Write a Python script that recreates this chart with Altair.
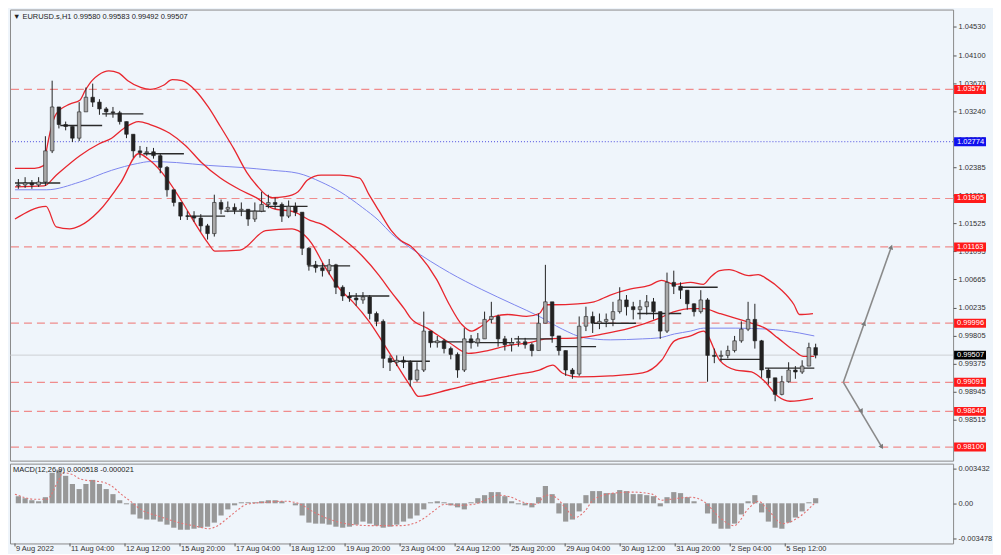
import altair as alt
import pandas as pd

FONT = "Liberation Sans"
HEADER = "\u25bc EURUSD.s,H1  0.99580 0.99583 0.99492 0.99507"
MACD_HEADER = "MACD(12,26,9) 0.000518 -0.000021"

# ---------------- price data (4-hour groups, time index = group number) ----------------
FIRST_OPEN = 1.02100
CLOSE = [1.02112, 1.02142, 1.02112, 1.02157, 1.02634, 1.03306, 1.03037, 1.03007, 1.02828, 1.03231,
         1.03455, 1.03380, 1.03276, 1.03231, 1.03216, 1.03082, 1.02888, 1.02634, 1.02605, 1.02620,
         1.02560, 1.02381, 1.02038, 1.01844, 1.01635, 1.01635, 1.01605, 1.01486, 1.01367, 1.01844,
         1.01740, 1.01769, 1.01725, 1.01740, 1.01590, 1.01710, 1.01814, 1.01844, 1.01814, 1.01635,
         1.01784, 1.01695, 1.01143, 1.00889, 1.00845, 1.00800, 1.00889, 1.00546, 1.00412, 1.00382,
         1.00352, 1.00397, 1.00144, 1.00024, 0.99458, 0.99398, 0.99428, 0.99398, 0.99130, 0.99279,
         0.99875, 0.99697, 0.99726, 0.99607, 0.99518, 0.99279, 0.99756, 0.99697, 0.99756, 1.00054,
         1.00099, 0.99756, 0.99667, 0.99697, 0.99711, 0.99667, 0.99577, 0.99995, 1.00323, 0.99801,
         0.99577, 0.99279, 0.99219, 0.99950, 1.00099, 0.99995, 1.00024, 1.00054, 1.00173, 1.00352,
         1.00248, 1.00203, 1.00248, 1.00323, 1.00173, 0.99875, 1.00621, 1.00561, 1.00501, 1.00293,
         1.00173, 1.00352, 0.99503, 0.99488, 0.99503, 0.99577, 0.99726, 0.99905, 1.00054, 0.99726,
         0.99279, 0.99160, 0.98906, 0.99100, 0.99279, 0.99249, 0.99339, 0.99622, 0.99507]
HIGH = [1.02202, 1.02231, 1.02187, 1.02231, 1.02858, 1.03708, 1.03306, 1.03082, 1.03007, 1.03380,
        1.03604, 1.03663, 1.03425, 1.03306, 1.03306, 1.03246, 1.03082, 1.02888, 1.02709, 1.02694,
        1.02679, 1.02590, 1.02400, 1.02038, 1.01844, 1.01710, 1.01710, 1.01665, 1.01516, 1.01963,
        1.01889, 1.01859, 1.01829, 1.01844, 1.01740, 1.01844, 1.02008, 1.01963, 1.01918, 1.01844,
        1.01874, 1.01844, 1.01695, 1.01160, 1.00949, 1.00919, 1.00979, 1.00905, 1.00576, 1.00472,
        1.00457, 1.00472, 1.00427, 1.00173, 1.00054, 0.99503, 0.99503, 0.99488, 0.99428, 0.99398,
        1.00173, 0.99875, 0.99801, 0.99756, 0.99637, 0.99548, 0.99920, 0.99816, 0.99846, 1.00173,
        1.00323, 1.00128, 0.99801, 0.99771, 0.99801, 0.99771, 0.99697, 1.00144, 1.00889, 1.00323,
        0.99801, 0.99577, 0.99309, 1.00099, 1.00248, 1.00173, 1.00144, 1.00144, 1.00323, 1.00546,
        1.00427, 1.00323, 1.00352, 1.00427, 1.00382, 1.00173, 1.00770, 1.00800, 1.00621, 1.00501,
        1.00300, 1.00501, 1.00380, 0.99607, 0.99577, 0.99652, 0.99801, 1.00024, 1.00323, 1.00293,
        0.99740, 0.99309, 0.99160, 0.99190, 0.99398, 0.99339, 0.99428, 0.99697, 0.99682]
LOW = [1.02053, 1.02068, 1.02053, 1.02082, 1.02097, 1.02600, 1.02977, 1.02948, 1.02769, 1.02784,
       1.03231, 1.03306, 1.03186, 1.03156, 1.03141, 1.03037, 1.02828, 1.02530, 1.02530, 1.02560,
       1.02515, 1.02291, 1.01933, 1.01784, 1.01576, 1.01576, 1.01546, 1.01397, 1.01277, 1.01322,
       1.01665, 1.01695, 1.01665, 1.01635, 1.01486, 1.01546, 1.01695, 1.01754, 1.01740, 1.01546,
       1.01605, 1.01635, 1.01039, 1.00800, 1.00770, 1.00710, 1.00740, 1.00442, 1.00337, 1.00323,
       1.00263, 1.00293, 1.00054, 0.99950, 0.99309, 0.99264, 0.99339, 0.99309, 0.99026, 0.99100,
       0.99249, 0.99622, 0.99622, 0.99533, 0.99443, 0.99160, 0.99249, 0.99607, 0.99637, 0.99756,
       0.99995, 0.99637, 0.99577, 0.99562, 0.99637, 0.99607, 0.99488, 0.99577, 0.99995, 0.99697,
       0.99503, 0.99190, 0.99145, 0.99190, 0.99875, 0.99846, 0.99905, 0.99935, 0.99950, 1.00144,
       1.00114, 1.00054, 1.00054, 1.00129, 1.00054, 0.99756, 0.99846, 1.00442, 1.00367, 1.00203,
       1.00099, 1.00144, 0.99100, 0.99384, 0.99413, 0.99458, 0.99548, 0.99697, 0.99875, 0.99607,
       0.99160, 0.99055, 0.98801, 0.98891, 0.99085, 0.99145, 0.99219, 0.99339, 0.99458]

# ---------------- indicator lines (time index, price) ----------------
UPPER_T = [0, 2.9, 4.3, 4.7, 5.3, 6.1, 8.1, 9.6, 10.4, 11.4, 12.4, 13.9, 15.3, 16.7, 18.6, 20.0, 21.9,
           23.3, 24.7, 26.7, 28.6, 30.4, 32.4, 34.3, 36.1, 37.1, 38.1, 40.0, 41.9, 43.3, 45.3, 48.1,
           51.0, 52.4, 53.9, 55.7, 57.1, 58.6, 59.6, 62.4, 64.3, 66.1, 67.6, 69.0, 71.0, 72.9, 75.7,
           77.6, 78.6, 79.6, 83.3, 85.7, 88.1, 91.0, 93.9, 95.7, 97.6, 100.0, 101.9, 102.9, 104.3,
           105.7, 108.6, 110.0, 111.4, 113.3, 115.3, 116.1, 118.1]
UPPER_P = [1.02366, 1.02366, 1.02411, 1.02664, 1.02963, 1.03201, 1.03350, 1.03410, 1.03559, 1.03708,
           1.03798, 1.03857, 1.03828, 1.03708, 1.03604, 1.03574, 1.03634, 1.03723, 1.03708, 1.03559,
           1.03306, 1.03007, 1.02664, 1.02306, 1.02068, 1.01963, 1.01918, 1.01933, 1.02008, 1.02187,
           1.02261, 1.02261, 1.02217, 1.01963, 1.01710, 1.01412, 1.01262, 1.01173, 1.01068, 1.00666,
           1.00278, 0.99980, 0.99875, 0.99950, 1.00099, 1.00129, 1.00099, 1.00144, 1.00278, 1.00278,
           1.00293, 1.00323, 1.00427, 1.00516, 1.00576, 1.00651, 1.00591, 1.00621, 1.00591, 1.00696,
           1.00800, 1.00815, 1.00725, 1.00740, 1.00666, 1.00516, 1.00278, 1.00129, 1.00144]
MID_T = [0, 4.3, 6.1, 9.6, 12.4, 14.3, 16.1, 18.3, 20.0, 22.9, 25.3, 27.6, 30.4, 33.3, 35.7, 38.1,
         41.4, 43.9, 45.3, 48.1, 51.4, 53.9, 55.7, 57.6, 58.6, 61.0, 64.3, 67.1, 70.0, 72.9, 76.1,
         78.6, 83.3, 87.1, 91.0, 95.3, 97.6, 100.0, 101.9, 104.3, 106.7, 109.0, 111.0, 112.9, 115.3,
         116.7, 118.3]
MID_P = [1.02082, 1.02097, 1.02261, 1.02560, 1.02739, 1.02828, 1.02977, 1.03082, 1.03037, 1.02903,
         1.02709, 1.02455, 1.02217, 1.02038, 1.01918, 1.01754, 1.01695, 1.01561, 1.01516, 1.01322,
         1.01024, 1.00725, 1.00472, 1.00218, 1.00069, 0.99920, 0.99697, 0.99533, 0.99577, 0.99652,
         0.99697, 0.99756, 0.99771, 0.99831, 0.99920, 1.00069, 1.00173, 1.00218, 1.00218, 1.00144,
         1.00069, 0.99995, 0.99920, 0.99771, 0.99577, 0.99488, 0.99488]
LOWER_T = [0, 4.6, 6.1, 8.1, 9.6, 12.4, 15.7, 18.3, 20.0, 22.4, 24.7, 26.7, 28.6, 29.6, 33.3, 37.1,
           41.0, 41.9, 43.9, 45.7, 48.1, 50.0, 52.4, 54.3, 56.1, 58.6, 59.7, 64.3, 69.0, 73.9, 77.6,
           79.6, 81.0, 83.3, 88.1, 92.9, 95.7, 97.6, 100.0, 101.9, 104.3, 106.7, 109.0, 111.0, 112.9,
           114.7, 118.1]
LOWER_P = [1.01590, 1.01784, 1.01471, 1.01441, 1.01486, 1.01710, 1.02157, 1.02590, 1.02485, 1.02217,
           1.01859, 1.01516, 1.01218, 1.01098, 1.01113, 1.01412, 1.01441, 1.01412, 1.01218, 1.00889,
           1.00516, 1.00323, 1.00024, 0.99726, 0.99428, 0.99026, 0.98876, 0.98981, 0.99100, 0.99204,
           0.99279, 0.99354, 0.99234, 0.99175, 0.99190, 0.99234, 0.99428, 0.99726, 0.99801, 0.99875,
           0.99428, 0.99279, 0.99249, 0.99100, 0.98876, 0.98801, 0.98846]
MA_T = [0, 4.7, 9.6, 14.3, 18.1, 20.0, 23.9, 28.6, 33.3, 38.1, 41.9, 45.3, 48.1, 51.4, 53.9, 55.7,
        58.6, 64.3, 69.0, 73.9, 77.6, 81.0, 84.3, 88.1, 92.9, 95.3, 97.6, 100.0, 101.9, 106.7, 111.4,
        116.1, 118.3]
MA_P = [1.02038, 1.02038, 1.02157, 1.02336, 1.02440, 1.02470, 1.02455, 1.02411, 1.02381, 1.02336,
        1.02291, 1.02157, 1.02008, 1.01769, 1.01561, 1.01367, 1.01143, 1.00770, 1.00516, 1.00278,
        1.00099, 0.99905, 0.99771, 0.99741, 0.99756, 0.99771, 0.99831, 0.99875, 0.99920, 0.99920,
        0.99905, 0.99846, 0.99801]

# daily open segments
DAY_T1 = [0, 6.7, 12.9, 19.0, 25.3, 31.0, 37.1, 43.3, 49.6, 55.4, 61.7, 68.1, 73.9, 80.0, 85.7, 92.1,
          98.3, 104.3, 111.0]
DAY_T2 = [6.7, 12.9, 19.0, 25.0, 31.1, 37.1, 43.3, 49.6, 55.4, 61.4, 68.1, 73.9, 79.6, 86.0, 91.9,
          98.6, 104.0, 110.3, 118.3]
DAY_P = [1.02142, 1.03022, 1.03201, 1.02590, 1.01635, 1.01710, 1.01784, 1.00874, 1.00412, 0.99413,
         0.99711, 0.99697, 0.99756, 0.99637, 0.99995, 1.00144, 1.00546, 0.99443, 0.99309]

RED_LEVELS = [1.03574, 1.01905, 1.01163, 0.99996, 0.99091, 0.98646, 0.98100]
BLUE_LEVEL = 1.02774
LAST_PRICE = 0.99507
Y_TICKS = [1.04530, 1.04100, 1.03670, 1.03240, 1.02815, 1.02385, 1.01955, 1.01525, 1.01095,
           1.00665, 1.00235, 0.99805, 0.99375, 0.98945, 0.98515]

# projection arrows: vertex, tips and mid arrowheads (time index, price)
ARROW_VERTEX = (122.6, 0.99091)
ARROW_TIPS = [(129.7, 1.01163), (128.3, 0.98100)]
ARROW_HEADS_T = [129.7, 125.7, 128.3, 125.3]
ARROW_HEADS_P = [1.01163, 0.99996, 0.98100, 0.98646]
ARROW_HEADS_ANGLE = [20, 20, 149, 149]

# ---------------- MACD ----------------
MACD = [0.0007, 0.0005, 0.0003, 0.0002, 0.0006, 0.0030, 0.0033, 0.0027, 0.0019, 0.0014,
        0.0019, 0.0023, 0.0019, 0.0014, 0.0009, 0.0003, -0.0001, -0.0011, -0.0015, -0.0016,
        -0.0016, -0.0018, -0.0021, -0.0024, -0.0026, -0.0026, -0.0025, -0.0024, -0.0023, -0.0019,
        -0.0012, -0.0006, -0.0002, 0.0001, 0.0001, 0.0001, 0.0002, 0.0003, 0.0003, 0.0002,
        0.0000, -0.0002, -0.0012, -0.0019, -0.0020, -0.0020, -0.0021, -0.0023, -0.0024, -0.0023,
        -0.0021, -0.0018, -0.0020, -0.0022, -0.0024, -0.0023, -0.0021, -0.0018, -0.0015, -0.0012,
        -0.0006, 0.0001, 0.0002, 0.0001, -0.0002, -0.0004, -0.0006, 0.0001, 0.0005, 0.0008,
        0.0011, 0.0011, 0.0007, 0.0002, -0.0001, -0.0002, -0.0004, 0.0006, 0.0017, 0.0009,
        -0.0010, -0.0018, -0.0016, -0.0008, 0.0008, 0.0012, 0.0012, 0.0010, 0.0010, 0.0013,
        0.0012, 0.0009, 0.0009, 0.0008, 0.0007, -0.0003, 0.0006, 0.0011, 0.0010, 0.0006,
        0.0002, 0.0000, -0.0010, -0.0020, -0.0025, -0.0025, -0.0020, -0.0011, 0.0002, 0.0008,
        -0.0009, -0.0018, -0.0024, -0.0025, -0.0019, -0.0014, -0.0008, 0.0001, 0.0005]
SIG_T = [0, 2.9, 4.7, 6.4, 7.1, 8.6, 9.6, 11.4, 12.9, 14.3, 15.7, 17.1, 18.6, 21.4, 24.3, 27.1, 28.6,
         30.0, 31.4, 32.9, 34.3, 37.1, 40.0, 41.9, 44.3, 47.1, 50.0, 52.9, 57.1, 60.0, 61.9, 63.6,
         65.7, 67.9, 70.0, 71.4, 72.9, 75.7, 77.1, 78.6, 80.0, 81.4, 82.9, 84.3, 85.7, 88.6, 91.4,
         94.3, 95.7, 97.1, 100.0, 102.1, 104.3, 106.4, 108.6, 110.0, 111.4, 113.6, 115.7, 118.3]
SIG_V = [0.0009, 0.0004, 0.0004, 0.0022, 0.0030, 0.0028, 0.0024, 0.0022, 0.0021, 0.0017,
         0.0009, 0.0002, -0.0006, -0.0013, -0.0019, -0.0023, -0.0025, -0.0022, -0.0015, -0.0007,
         -0.0001, 0.0001, 0.0002, 0.0000, -0.0009, -0.0017, -0.0021, -0.0022, -0.0022, -0.0017,
         -0.0008, -0.0001, -0.0002, -0.0001, 0.0004, 0.0008, 0.0007, 0.0000, -0.0001, 0.0008,
         0.0006, -0.0004, -0.0014, -0.0008, 0.0004, 0.0010, 0.0011, 0.0009, 0.0003, 0.0004,
         0.0006, 0.0001, -0.0014, -0.0022, -0.0005, 0.0002, -0.0006, -0.0020, -0.0015, -0.00002]
MACD_TICKS = [0.003432, 0.0, -0.003478]

X_TICK_HOURS = [0, 32, 64, 96, 128, 160, 192, 224, 256, 288, 320, 352, 384, 416, 448]
X_TICK_LABELS = ["9 Aug 2022", "11 Aug 04:00", "12 Aug 12:00", "15 Aug 20:00", "17 Aug 04:00",
                 "18 Aug 12:00", "19 Aug 20:00", "23 Aug 04:00", "24 Aug 12:00", "25 Aug 20:00",
                 "29 Aug 04:00", "30 Aug 12:00", "31 Aug 20:00", "2 Sep 04:00", "5 Sep 12:00"]
HOURS_PER_GROUP = 3.93

# ---------------- layout ----------------
W, H1, H2 = 945, 452, 80
XMAX = 138.1
BG = "#eff5fb"

assert len(CLOSE) == len(HIGH) == len(LOW) == len(MACD)
n = len(CLOSE)
candles = pd.DataFrame({
    "t": [i + 0.5 for i in range(n)],
    "o": [FIRST_OPEN] + CLOSE[:-1],
    "h": HIGH, "l": LOW, "c": CLOSE,
})
xs = alt.Scale(domain=[0, XMAX], nice=False, zero=False)
ys = alt.Scale(domain=[0.97892, 1.04797], nice=False, zero=False)
ms = alt.Scale(domain=[-0.00395, 0.0039], nice=False, zero=False)

price_axis = alt.Axis(orient="right", values=Y_TICKS, format=".5f", title=None,
                      labelFontSize=7.5, labelFont=FONT, labelColor="#333333",
                      tickColor="#555555", tickSize=3, domain=False, grid=False,
                      labelPadding=2, labelOverlap=False)
macd_axis = alt.Axis(orient="right", values=MACD_TICKS, title=None, labelFontSize=7.5,
                     labelFont=FONT, labelColor="#333333", tickColor="#555555", tickSize=3,
                     domain=False, grid=False, labelPadding=2, labelOverlap=False,
                     labelExpr="datum.value == 0 ? '0.00' : (datum.value < 0 ? '-' + format(-datum.value, '.6f') : format(datum.value, '.6f'))")


def X(f):
    return alt.X(f, type="quantitative", scale=xs, axis=None)


def Y(f):
    return alt.Y(f, type="quantitative", scale=ys, axis=price_axis)


def M(f):
    return alt.Y(f, type="quantitative", scale=ms, axis=macd_axis)


red_lines = alt.Chart(pd.DataFrame({"p": RED_LEVELS})).mark_rule(
    color="#f08c8c", strokeWidth=1.2, strokeDash=[8, 5]
).encode(y=Y("p"))
blue_line = alt.Chart(pd.DataFrame({"p": [BLUE_LEVEL]})).mark_rule(
    color="#4a4ae0", strokeWidth=1, strokeDash=[1, 2]
).encode(y=Y("p"))
last_line = alt.Chart(pd.DataFrame({"p": [LAST_PRICE]})).mark_rule(
    color="#c4c8cc", strokeWidth=0.8
).encode(y=Y("p"))


def line_layer(ts, ps, color, width):
    df = pd.DataFrame({"t": ts, "p": ps})
    return alt.Chart(df).mark_line(color=color, strokeWidth=width, interpolate="monotone").encode(
        x=X("t"), y=Y("p"))


ma = line_layer(MA_T, MA_P, "#7d86ee", 1.0)
upper = line_layer(UPPER_T, UPPER_P, "#e8262e", 1.3)
mid = line_layer(MID_T, MID_P, "#e8262e", 1.3)
lower = line_layer(LOWER_T, LOWER_P, "#e8262e", 1.3)

days = alt.Chart(pd.DataFrame({"t1": DAY_T1, "t2": DAY_T2, "p": DAY_P})).mark_rule(
    color="#2a2a2a", strokeWidth=1.3
).encode(x=X("t1"), x2="t2", y=Y("p"))

wicks = alt.Chart(candles).mark_rule(color="#222222", strokeWidth=1).encode(
    x=X("t"), y=Y("l"), y2="h")
bodies = alt.Chart(candles).mark_bar(size=3.6, stroke="#222222", strokeWidth=0.6).encode(
    x=X("t"), y=Y("o"), y2="c",
    fill=alt.condition("datum.c >= datum.o", alt.value("#a9a9a9"), alt.value("#222222")))

arrow_df = pd.DataFrame({
    "t": [ARROW_VERTEX[0]] * 2, "p": [ARROW_VERTEX[1]] * 2,
    "t2": [a[0] for a in ARROW_TIPS], "p2": [a[1] for a in ARROW_TIPS]})
arrows = alt.Chart(arrow_df).mark_rule(color="#8a8a8a", strokeWidth=1.6).encode(
    x=X("t"), y=Y("p"), x2="t2", y2="p2")
heads = alt.Chart(pd.DataFrame({"t": ARROW_HEADS_T, "p": ARROW_HEADS_P, "a": ARROW_HEADS_ANGLE})).mark_point(
    shape="triangle-up", filled=True, color="#7a7a7a", size=28, opacity=1
).encode(x=X("t"), y=Y("p"), angle=alt.Angle("a:Q", scale=None))

lab_p = RED_LEVELS + [BLUE_LEVEL, LAST_PRICE]
lab_c = ["#ff1a1a"] * len(RED_LEVELS) + ["#1010ee", "#000000"]
labels_df = pd.DataFrame({"p": lab_p, "col": lab_c})
boxes = alt.Chart(labels_df).mark_rect(yOffset=-4.5, y2Offset=4.5).encode(
    x=alt.value(W + 1), x2=alt.value(W + 33), y=Y("p"), y2="p",
    color=alt.Color("col:N", scale=None))
box_text = alt.Chart(labels_df).mark_text(
    align="left", baseline="middle", color="white", fontSize=7.5, font=FONT
).encode(x=alt.value(W + 4), y=Y("p"), text=alt.Text("p:Q", format=".5f"))

header = alt.Chart(pd.DataFrame({"s": [HEADER]})).mark_text(
    align="left", baseline="middle", fontSize=7.5, font=FONT, color="#222222"
).encode(x=alt.value(3), y=alt.value(7), text="s:N")

top = alt.layer(red_lines, blue_line, last_line, ma, upper, mid, lower, days, wicks, bodies,
                arrows, heads, boxes, box_text, header).properties(width=W, height=H1)

# MACD panel
macd_df = pd.DataFrame({"t": [i + 0.5 for i in range(n)], "v": MACD})
hist = alt.Chart(macd_df).mark_bar(size=5.2, color="#989898").encode(
    x=X("t"), y=M("v"), y2=alt.datum(0))
sig = alt.Chart(pd.DataFrame({"t": SIG_T, "v": SIG_V})).mark_line(
    color="#e27474", strokeWidth=1.1, strokeDash=[2, 2], interpolate="monotone"
).encode(x=X("t"), y=M("v"))
macd_head = alt.Chart(pd.DataFrame({"s": [MACD_HEADER]})).mark_text(
    align="left", baseline="middle", fontSize=7.5, font=FONT, color="#222222"
).encode(x=alt.value(3), y=alt.value(6), text="s:N")

xt_df = pd.DataFrame({"t": [h / HOURS_PER_GROUP for h in X_TICK_HOURS], "lab": X_TICK_LABELS})
xticks = alt.Chart(xt_df).mark_rule(color="#555555", strokeWidth=1).encode(
    x=X("t"), y=alt.value(H2), y2=alt.value(H2 + 3))
xlabels = alt.Chart(xt_df).mark_text(
    align="left", baseline="top", fontSize=7.5, font=FONT, color="#333333", dx=1
).encode(x=X("t"), y=alt.value(H2 + 2), text="lab:N")

bottom = alt.layer(hist, sig, macd_head, xticks, xlabels).properties(width=W, height=H2)

chart = alt.vconcat(top, bottom, spacing=1).properties(
    padding={"left": 0, "top": 0, "right": 0, "bottom": 0}
).configure(background=BG).configure_view(stroke="#8a8a8a", strokeWidth=1, fill=BG)

chart.save("out.html", embed_options={"renderer": "svg", "actions": False})
